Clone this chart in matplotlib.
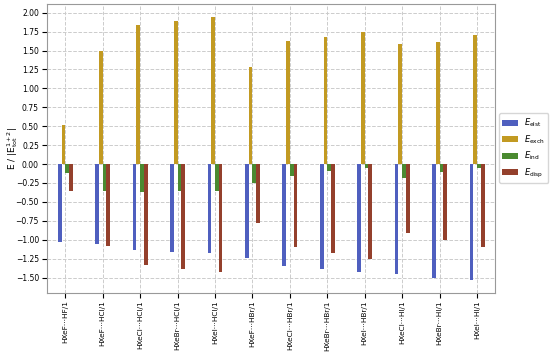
import matplotlib
matplotlib.use("Agg")
import matplotlib.pyplot as plt
import numpy as np

categories = ["HXeF···HF/1", "HXeF···HCl/1", "HXeCl···HCl/1", "HXeBr···HCl/1",
              "HXeI···HCl/1", "HXeF···HBr/1", "HXeCl···HBr/1", "HXeBr···HBr/1",
              "HXeI···HBr/1", "HXeCl···HI/1", "HXeBr···HI/1", "HXeI···HI/1"]
E_elst = [-1.03, -1.05, -1.13, -1.16, -1.17, -1.24, -1.35, -1.39, -1.43, -1.45, -1.50, -1.53]
E_exch = [0.51, 1.49, 1.84, 1.89, 1.94, 1.28, 1.63, 1.68, 1.75, 1.58, 1.61, 1.70]
E_ind = [-0.12, -0.36, -0.37, -0.35, -0.35, -0.25, -0.16, -0.09, -0.05, -0.19, -0.11, -0.05]
E_disp = [-0.36, -1.08, -1.33, -1.39, -1.43, -0.78, -1.10, -1.17, -1.26, -0.91, -1.00, -1.09]
labels = [r"$E_{\rm elst}$", r"$E_{\rm exch}$", r"$E_{\rm ind}$", r"$E_{\rm disp}$"]
colors = ["#4f5fbf", "#c29a22", "#4a8a30", "#94402c"]

fig = plt.figure(figsize=(5.5, 3.57), dpi=100)
ax = fig.add_axes([0.086, 0.18, 0.814, 0.81])
x = np.arange(len(categories))
w = 0.1
series = [E_elst, E_exch, E_ind, E_disp]
for i, (vals, lab, c) in enumerate(zip(series, labels, colors)):
    ax.bar(x + (i - 1.5) * w, vals, width=w, color=c, label=lab, zorder=3)

ax.set_xticks(x)
ax.set_xticklabels(categories, rotation=90, fontsize=5.3)
ax.set_yticks(np.arange(-1.5, 2.01, 0.25))
ax.tick_params(axis='y', labelsize=5.5, pad=2.5)
ax.tick_params(axis='x', pad=2)
ax.set_ylim(-1.70, 2.12)
ax.set_xlim(-0.48, 11.48)
ax.set_ylabel(r"E / |E$_{\rm tot}^{1+2}$|", fontsize=6.5)
ax.yaxis.set_label_coords(-0.062, 0.5)
ax.grid(True, linestyle='--', color='#cccccc', linewidth=0.7, zorder=0)
for s in ax.spines.values():
    s.set_color('#999999')
ax.legend(loc='center left', bbox_to_anchor=(1.0, 0.5), fontsize=6, handlelength=1.8)
fig.savefig("out.png", dpi=100)
